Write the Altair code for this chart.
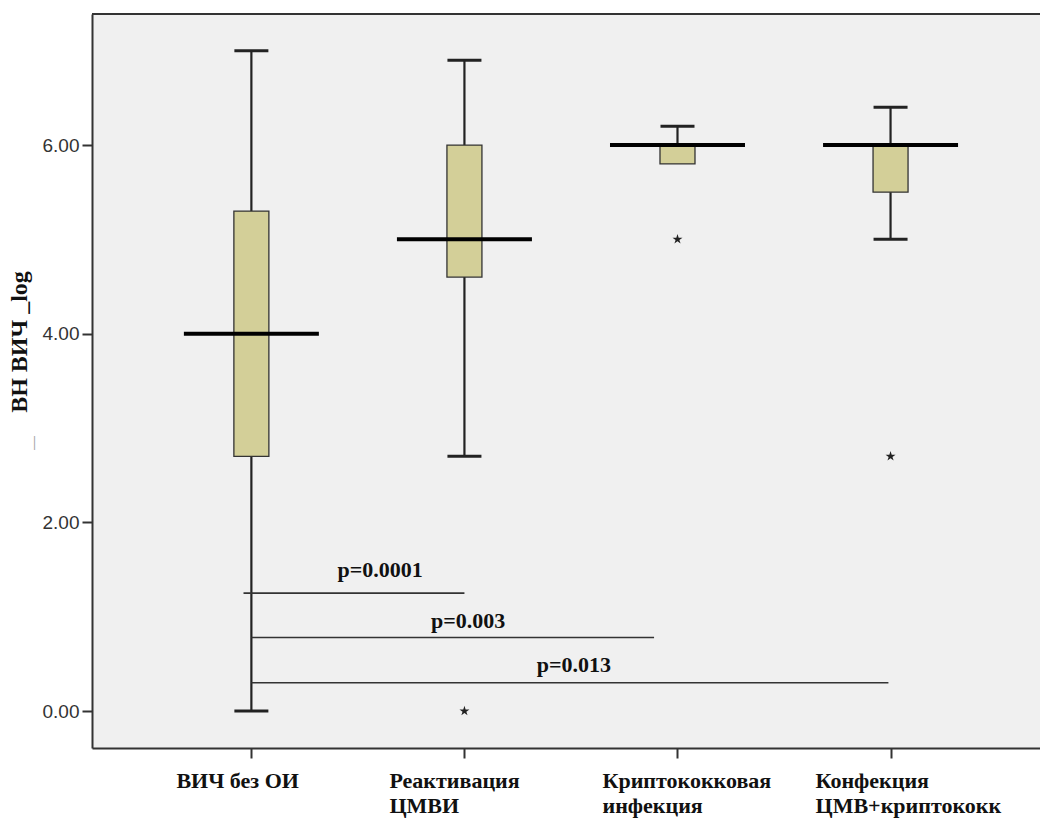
import altair as alt
import pandas as pd

# ---- data ----
groups = ["ВИЧ без ОИ", "Реактивация\nЦМВИ", "Криптококковая\nинфекция", "Конфекция\nЦМВ+криптококк"]
group_idx = [0, 1, 2, 3]
q1 = [2.7, 4.6, 5.8, 5.5]
q3 = [5.3, 6.0, 6.0, 6.0]
median = [4.0, 5.0, 6.0, 6.0]
whisker_lo = [0.0, 2.7, 5.8, 5.0]
whisker_hi = [7.0, 6.9, 6.2, 6.4]

outlier_idx = [1, 2, 3]
outlier_val = [0.0, 5.0, 2.7]

p_labels = ["p=0.0001", "p=0.003", "p=0.013"]
p_from = [-0.037, 0.0, 0.0]
p_to = [1.0, 1.89, 2.99]
p_line_y = [1.25, 0.78, 0.30]
p_text_x = [0.604, 1.017, 1.514]
p_text_y = [1.50, 0.954, 0.488]

y_ticks = [0, 2, 4, 6]
y_title = "ВН ВИЧ _log"

# ---- tables ----
boxes = pd.DataFrame({"g": group_idx, "label": groups, "q1": q1, "q3": q3,
                      "med": median, "wlo": whisker_lo, "whi": whisker_hi})
outl = pd.DataFrame({"g": outlier_idx, "v": outlier_val})
plines = pd.DataFrame({"x1": p_from, "x2": p_to, "y": p_line_y,
                       "tx": p_text_x, "ty": p_text_y, "t": p_labels})

W, H = 948, 734
xs = alt.Scale(domain=[-0.7246, 3.678], nice=False, zero=False)
ys = alt.Scale(domain=[-0.392, 7.389], nice=False, zero=False)

X = alt.X("g:Q", scale=xs,
          axis=alt.Axis(values=group_idx, labels=False, title=None, grid=False,
                        tickSize=10, tickWidth=2, tickColor="#333", domainColor="#333",
                        domainWidth=2))
Yax = alt.Axis(values=y_ticks, format=".2f", title=None, grid=False, tickSize=10,
               tickWidth=2, tickColor="#333", domainColor="#333", domainWidth=2,
               labelFont="Liberation Sans", labelFontSize=19, labelColor="#333",
               labelPadding=3)

base = alt.Chart(boxes)

whisk = base.mark_rule(color="#222", strokeWidth=2.2).encode(
    x=X, y=alt.Y("wlo:Q", scale=ys, axis=Yax), y2="whi:Q")

cap_hi = base.transform_filter("datum.whi > datum.q3").mark_tick(
    orient="horizontal", size=34, thickness=3, color="#222", opacity=1).encode(
    x=alt.X("g:Q", scale=xs), y=alt.Y("whi:Q", scale=ys))
cap_lo = base.transform_filter("datum.wlo < datum.q1").mark_tick(
    orient="horizontal", size=34, thickness=3, color="#222", opacity=1).encode(
    x=alt.X("g:Q", scale=xs), y=alt.Y("wlo:Q", scale=ys))

box = base.mark_bar(size=35, fill="#D3CF98", stroke="#333", strokeWidth=1.3, opacity=1).encode(
    x=alt.X("g:Q", scale=xs), y=alt.Y("q1:Q", scale=ys), y2="q3:Q")

med = base.mark_tick(orient="horizontal", size=135, thickness=4, color="#000",
                     opacity=1).encode(
    x=alt.X("g:Q", scale=xs), y=alt.Y("med:Q", scale=ys))

star = ("M0,-1L0.2245,-0.309L0.951,-0.309L0.363,0.118L0.588,0.809L0,0.382"
        "L-0.588,0.809L-0.363,0.118L-0.951,-0.309L-0.2245,-0.309Z")
outs = alt.Chart(outl).mark_point(shape=star, filled=True, size=110, color="#222",
                                  opacity=1).encode(
    x=alt.X("g:Q", scale=xs), y=alt.Y("v:Q", scale=ys))

pl = alt.Chart(plines).mark_rule(color="#333", strokeWidth=1.6).encode(
    x=alt.X("x1:Q", scale=xs), x2="x2:Q", y=alt.Y("y:Q", scale=ys))
pt = alt.Chart(plines).mark_text(font="Liberation Serif", fontWeight="bold", fontSize=22,
                                 color="#111", baseline="middle").encode(
    x=alt.X("tx:Q", scale=xs), y=alt.Y("ty:Q", scale=ys), text="t:N")

cat = base.mark_text(font="Liberation Serif", fontWeight="bold", fontSize=22, color="#111",
                     align="left", baseline="top", lineBreak="\n", lineHeight=25,
                     dx=-75).encode(
    x=alt.X("g:Q", scale=xs), y=alt.value(H + 23), text="label:N")

ytitle = alt.Chart(pd.DataFrame({"t": [y_title]})).mark_text(
    font="Liberation Serif", fontWeight="bold", fontSize=24, color="#111",
    angle=270, align="center", baseline="middle").encode(
    x=alt.value(-72), y=alt.value(328), text="t:N")
ydash = alt.Chart(pd.DataFrame({"t": ["—"]})).mark_text(
    font="Liberation Sans", fontSize=14, color="#aaa", angle=270, align="center",
    baseline="middle").encode(x=alt.value(-58), y=alt.value(429), text="t:N")

top = alt.Chart(pd.DataFrame({"a": [0]})).mark_rule(color="#333", strokeWidth=2).encode(
    x=alt.value(0), x2=alt.value(W), y=alt.value(0))

chart = alt.layer(whisk, cap_hi, cap_lo, box, med, outs, pl, pt, cat, ytitle, ydash, top
                  ).properties(
    width=W, height=H, autosize="none",
    padding={"left": 92, "top": 14, "right": 0, "bottom": 73},
    background="white"
).configure_view(fill="#F0F0F0", stroke="transparent")

chart.save("out.html", embed_options={"renderer": "svg", "actions": False})
